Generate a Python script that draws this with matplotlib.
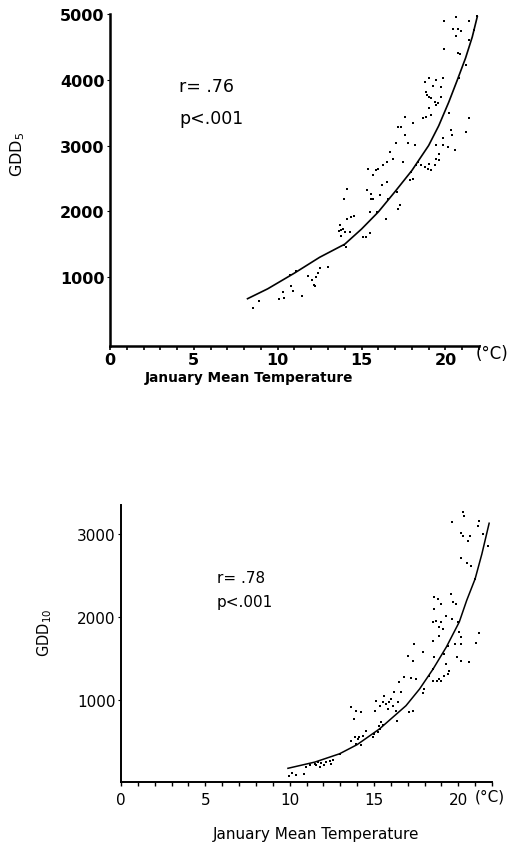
import numpy as np
import matplotlib
matplotlib.use("Agg")
import matplotlib.pyplot as plt

plt.rcParams['font.family'] = ['DejaVu Sans']

# GDD5 vs January mean temperature (top panel)
gdd5_temp = [8.5, 8.86, 10.08, 10.39, 10.34, 10.73, 10.77, 10.93, 11.12, 11.46,
             11.83, 12.05, 12.15, 12.31, 12.39, 12.5, 13.0, 12.25,
             13.93, 14.06, 13.69, 13.65, 13.77, 13.89, 14.02, 14.16, 14.36, 14.56,
             14.12, 13.98, 15.07, 15.27, 15.5, 15.3, 15.37, 15.54, 15.56, 15.5,
             15.7, 15.86, 15.99, 15.94, 15.7, 16.1, 16.2, 16.3, 16.49, 16.49,
             16.59, 16.45, 16.69, 16.88, 17.12, 17.18, 17.28, 17.04, 17.18, 17.38,
             17.57, 17.48, 17.57, 17.77, 17.97, 18.07, 17.87, 18.17, 18.07, 18.26,
             18.36, 18.56, 18.76, 18.95, 19.05, 19.15, 19.35, 19.45, 19.64, 19.64,
             19.84, 20.14, 19.84, 20.34, 20.4, 20.59, 21.22, 21.42, 19.45, 18.65,
             18.84, 19.05, 19.15, 19.35, 19.41, 19.55, 18.84, 18.88, 19.05, 19.15,
             18.8, 19.05, 19.25, 19.45, 19.74, 19.84, 19.74, 20.24, 19.94, 19.94,
             20.53, 20.63, 20.47, 20.73, 20.63, 20.93, 20.73, 20.86, 21.42, 21.72,
             21.42, 21.22, 21.91, 20.83, 21.02, 14.32, 13.75]
gdd5_val = [522, 628, 664, 674, 766, 1031, 868, 791, 1097, 715,
            1010, 959, 878, 995, 1061, 1132, 1148, 857,
            1488, 1453, 1784, 1698, 1621, 1733, 1682, 1885, 1911, 1926,
            2333, 2191, 1616, 1616, 1667, 2328, 2648, 2267, 2191, 1987,
            2546, 2623, 2648, 1987, 2191, 2242, 2394, 2700, 2750, 2445,
            2191, 1885, 2903, 2801, 2293, 2038, 2089, 3031, 3285, 3285,
            3438, 2750, 3158, 3031, 2598, 2496, 2471, 3005, 3336, 2700,
            2750, 2700, 2674, 2648, 2725, 2623, 2700, 2801, 2776, 2878,
            3005, 2980, 3107, 3234, 3158, 2929, 3209, 3412, 3005, 3412,
            3438, 3565, 3463, 3667, 3616, 3641, 3819, 3768, 3743, 3718,
            3972, 4023, 3911, 3997, 3896, 4023, 3743, 3489, 4469, 4898,
            5030, 4948, 4776, 4776, 4659, 4746, 4405, 4389, 4898, 4751,
            4608, 4227, 4964, 4023, 5015, 1682, 1720]

# fitted curve
fit5_temp = [8.2, 9.4, 11.0, 12.5, 14.0, 15.0, 16.0, 17.0, 18.0, 19.0,
             19.6, 20.2, 20.7, 21.2, 21.6, 21.9]
fit5_val = [670, 820, 1060, 1300, 1500, 1730, 1990, 2300, 2620, 3000,
            3300, 3660, 3990, 4330, 4650, 4960]

# GDD10 vs January mean temperature (bottom panel)
gdd10_temp = [9.96, 10.16, 10.39, 10.83, 10.99, 11.18, 11.48, 11.68, 11.78, 11.88,
              12.01, 12.17, 12.37, 12.47, 12.56, 12.96, 11.58,
              13.65, 13.85, 13.94, 14.04, 14.14, 14.24, 14.34, 14.54, 14.93, 15.03,
              15.23, 15.33, 15.42, 15.29, 15.52,
              13.65, 13.79, 13.94, 14.24, 15.13, 15.09, 15.33, 15.52, 15.62, 15.72,
              15.82, 15.92, 16.02, 16.11, 16.21, 16.31, 16.41, 16.35, 16.51, 16.61,
              16.8, 17.0, 17.3, 17.4, 17.2, 17.5, 17.1, 17.3, 17.9, 17.99,
              17.89, 18.28, 18.48, 18.48, 18.58, 18.48, 18.52, 18.58, 18.58, 18.78,
              18.68, 18.84, 18.88, 18.98, 18.98, 18.72, 18.88, 18.98, 19.17, 19.27,
              19.37, 19.47, 19.17, 19.07, 19.27, 19.37, 19.57, 19.66, 19.62, 19.86,
              19.82, 19.96, 19.9, 20.16, 20.16, 20.65, 21.08, 21.24, 20.16, 20.16,
              19.62, 20.3, 20.36, 20.16, 20.3, 20.55, 20.69, 20.49, 20.75, 21.14,
              21.24, 21.44, 21.74, 21.0, 20.06]
gdd10_val = [88, 120, 96, 108, 189, 217, 229, 249, 189, 240,
             209, 249, 257, 229, 269, 349, 209,
             510, 550, 470, 530, 550, 450, 570, 630, 550, 590,
             610, 651, 731, 691, 699,
             912, 771, 871, 859, 992, 871, 932, 972, 1052, 952,
             892, 972, 1012, 932, 1092, 871, 972, 751, 1213, 1092,
             1273, 1534, 1474, 1675, 1261, 1253, 851, 871, 1574, 1133,
             1084, 1293, 1233, 1374, 1514, 1715, 1936, 2096, 2237, 2217,
             1956, 1876, 1775, 2157, 1936, 1233, 1253, 1233, 1293, 1434,
             1313, 1353, 1554, 1856, 2016, 1655, 2277, 2177, 1976, 2157,
             1675, 1936, 1514, 1675, 1474, 1454, 1687, 1807, 1755, 2707,
             3149, 3261, 3213, 3012, 2980, 2920, 2980, 2651, 2610, 3100,
             3161, 3000, 2859, 2458, 1815]

fit10_temp = [9.9, 11.5, 12.96, 14.0, 15.33, 16.9, 17.7, 18.5, 19.3, 20.06,
              20.5, 21.0, 21.4, 21.83]
fit10_val = [175, 250, 350, 460, 650, 930, 1130, 1370, 1640, 1940,
             2200, 2460, 2760, 3130]

fig = plt.figure(figsize=(5.16, 8.45), dpi=100)

# ---- top panel
ax1 = fig.add_axes([0.2132, 0.5893, 0.715, 0.3929])
ax1.plot(gdd5_temp, gdd5_val, 's', color='black', ms=2.1, mew=0)
ax1.plot(fit5_temp, fit5_val, '-', color='black', lw=1.2)
ax1.set_xlim(0, 22)
ax1.set_ylim(-50, 5000)
ax1.set_xticks(np.arange(0, 23, 1))
ax1.set_xticklabels([str(t) if t % 5 == 0 and t <= 20 else '' for t in range(23)])
ax1.set_yticks([1000, 2000, 3000, 4000, 5000])
for s in ['top', 'right']:
    ax1.spines[s].set_visible(False)
for s in ['left', 'bottom']:
    ax1.spines[s].set_linewidth(1.8)
ax1.tick_params(axis='x', direction='out', length=3, width=1.2, pad=1,
                labelsize=11.5)
ax1.tick_params(axis='y', direction='out', length=2, width=0.8, pad=2,
                labelsize=11.5)
for lab in ax1.get_xticklabels() + ax1.get_yticklabels():
    lab.set_fontweight('bold')
ax1.text(0.187, 0.783, 'r= .76', transform=ax1.transAxes, fontsize=12.5,
         va='center')
ax1.text(0.187, 0.687, 'p<.001', transform=ax1.transAxes, fontsize=12.5,
         va='center')
fig.text(0.953, 0.581, '(°C)', fontsize=12, ha='center', va='center')
fig.text(0.482, 0.553, 'January Mean Temperature', fontsize=9.8, ha='center',
         va='center', fontweight='bold')
fig.text(0.035, 0.817, r'GDD$_5$', fontsize=11.5, rotation=90, ha='center',
         va='center')

# ---- bottom panel
ax2 = fig.add_axes([0.2345, 0.0734, 0.719, 0.3278])
ax2.plot(gdd10_temp, gdd10_val, 's', color='black', ms=1.7, mew=0)
ax2.plot(fit10_temp, fit10_val, '-', color='black', lw=1.1)
ax2.set_xlim(0, 22)
ax2.set_ylim(10, 3350)
ax2.set_xticks(np.arange(0, 23, 1))
ax2.set_xticklabels([str(t) if t % 5 == 0 and t <= 20 else '' for t in range(23)])
ax2.set_yticks([1000, 2000, 3000])
for s in ['top', 'right']:
    ax2.spines[s].set_visible(False)
for s in ['left', 'bottom']:
    ax2.spines[s].set_linewidth(1.4)
ax2.tick_params(axis='x', direction='out', length=3, width=1.0, pad=4,
                labelsize=11)
ax2.tick_params(axis='y', direction='out', length=2, width=0.8, pad=2,
                labelsize=11)
ax2.text(0.259, 0.74, 'r= .78', transform=ax2.transAxes, fontsize=11,
         va='center')
ax2.text(0.259, 0.653, 'p<.001', transform=ax2.transAxes, fontsize=11,
         va='center')
fig.text(0.950, 0.057, '(°C)', fontsize=11, ha='center', va='center')
fig.text(0.612, 0.013, 'January Mean Temperature', fontsize=11, ha='center',
         va='center')
fig.text(0.087, 0.251, r'GDD$_{10}$', fontsize=10.5, rotation=90, ha='center',
         va='center')

fig.savefig('out.png', dpi=100)
